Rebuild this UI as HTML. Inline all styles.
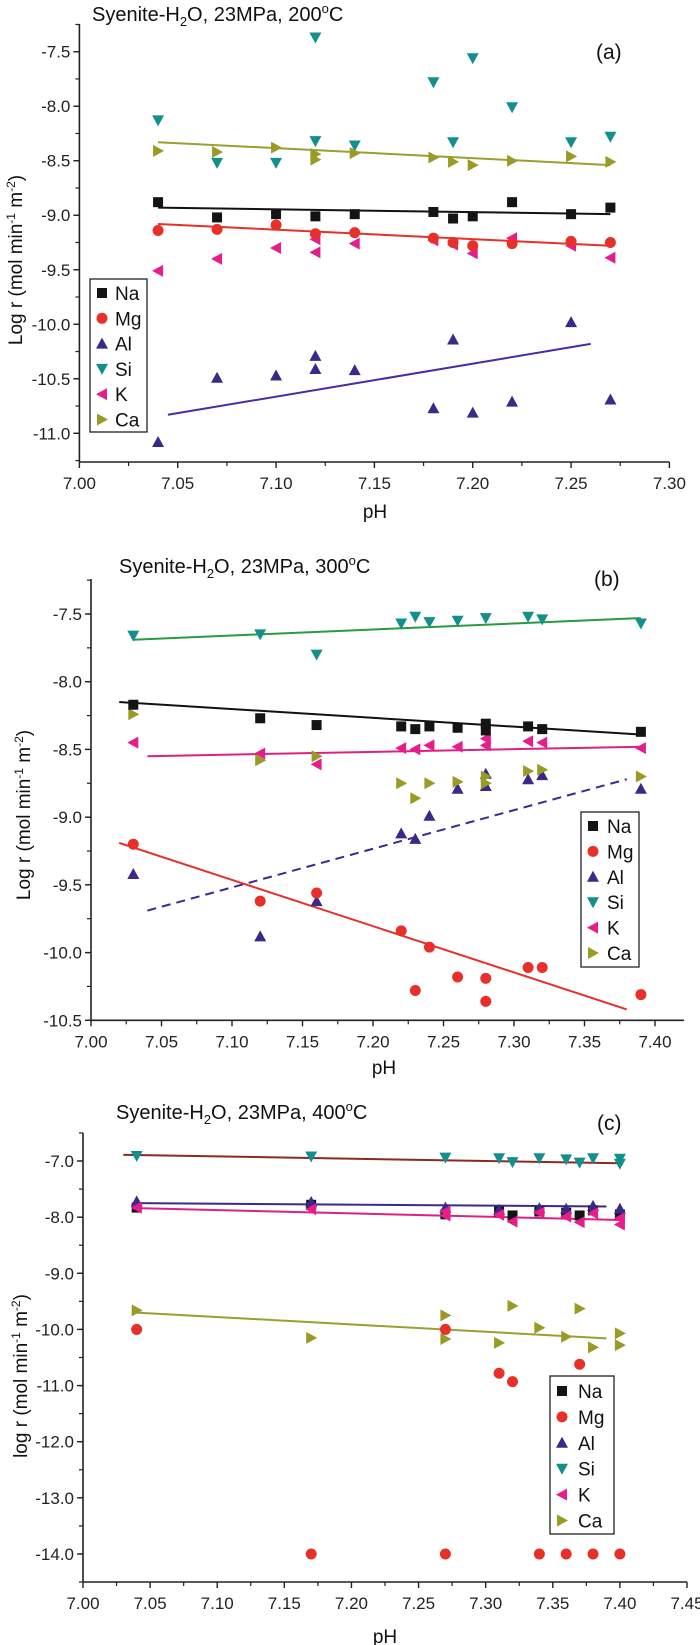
<!DOCTYPE html>
<html><head><meta charset="utf-8"><style>
html,body{margin:0;padding:0;background:#fff;}
svg{display:block;}
text{font-family:"Liberation Sans",Arial,sans-serif;}
</style></head><body>
<svg id="chart" width="700" height="1645" viewBox="0 0 700 1645" xmlns="http://www.w3.org/2000/svg"></svg>
<script>
// ---------- Panel (a) 200°C data ----------
const aNaX=[7.04,7.07,7.10,7.12,7.14,7.18,7.19,7.20,7.22,7.25,7.27];
const aNaY=[-8.88,-9.02,-8.99,-9.01,-8.99,-8.97,-9.03,-9.01,-8.88,-8.99,-8.93];
const aMgX=[7.04,7.07,7.10,7.12,7.14,7.18,7.19,7.20,7.22,7.25,7.27];
const aMgY=[-9.14,-9.13,-9.09,-9.17,-9.16,-9.21,-9.25,-9.28,-9.26,-9.24,-9.25];
const aAlX=[7.04,7.07,7.10,7.12,7.12,7.14,7.18,7.19,7.20,7.22,7.25,7.27];
const aAlY=[-11.08,-10.49,-10.47,-10.29,-10.41,-10.42,-10.77,-10.14,-10.81,-10.71,-9.98,-10.69];
const aSiX=[7.04,7.07,7.10,7.12,7.12,7.14,7.18,7.19,7.20,7.22,7.25,7.27];
const aSiY=[-8.13,-8.52,-8.52,-7.37,-8.32,-8.36,-7.78,-8.33,-7.56,-8.01,-8.33,-8.28];
const aKX=[7.04,7.07,7.10,7.12,7.12,7.14,7.18,7.19,7.20,7.22,7.25,7.27];
const aKY=[-9.51,-9.40,-9.30,-9.22,-9.34,-9.26,-9.23,-9.27,-9.35,-9.21,-9.28,-9.39];
const aCaX=[7.04,7.07,7.10,7.12,7.12,7.14,7.18,7.19,7.20,7.22,7.25,7.27];
const aCaY=[-8.41,-8.42,-8.38,-8.44,-8.49,-8.43,-8.47,-8.51,-8.54,-8.50,-8.46,-8.51];
const aFitNa=[7.04,-8.93,7.27,-8.99];
const aFitMg=[7.04,-9.08,7.27,-9.28];
const aFitAl=[7.045,-10.83,7.26,-10.18];
const aFitCa=[7.04,-8.33,7.27,-8.54];
const aXTicks=["7.00","7.05","7.10","7.15","7.20","7.25","7.30"];
const aYTicks=["-7.5","-8.0","-8.5","-9.0","-9.5","-10.0","-10.5","-11.0"];

// ---------- Panel (b) 300°C data ----------
const bX=[7.03,7.12,7.16,7.22,7.23,7.24,7.26,7.28,7.28,7.31,7.32,7.39];
const bNaY=[-8.17,-8.27,-8.32,-8.33,-8.35,-8.33,-8.34,-8.31,-8.36,-8.33,-8.35,-8.37];
const bMgY=[-9.20,-9.62,-9.56,-9.84,-10.28,-9.96,-10.18,-10.19,-10.36,-10.11,-10.11,-10.31];
const bAlY=[-9.42,-9.88,-9.62,-9.12,-9.16,-8.99,-8.79,-8.68,-8.77,-8.72,-8.69,-8.79];
const bSiX=[7.03,7.12,7.16,7.22,7.23,7.24,7.26,7.28,7.31,7.32,7.39];
const bSiY=[-7.66,-7.65,-7.80,-7.57,-7.52,-7.56,-7.55,-7.53,-7.52,-7.54,-7.57];
const bKY=[-8.45,-8.53,-8.61,-8.49,-8.50,-8.47,-8.48,-8.42,-8.47,-8.44,-8.45,-8.49];
const bCaY=[-8.24,-8.58,-8.55,-8.75,-8.86,-8.75,-8.74,-8.70,-8.75,-8.66,-8.65,-8.70];
const bFitSi=[7.03,-7.69,7.39,-7.53];
const bFitNa=[7.02,-8.15,7.39,-8.39];
const bFitK=[7.04,-8.55,7.39,-8.48];
const bFitMg=[7.02,-9.19,7.38,-10.42];
const bFitAl=[7.04,-9.69,7.38,-8.72];
const bXTicks=["7.00","7.05","7.10","7.15","7.20","7.25","7.30","7.35","7.40"];
const bYTicks=["-7.5","-8.0","-8.5","-9.0","-9.5","-10.0","-10.5"];

// ---------- Panel (c) 400°C data ----------
const cNaX=[7.04,7.17,7.27,7.31,7.32,7.34,7.36,7.37,7.38,7.40];
const cNaY=[-7.83,-7.78,-7.95,-7.90,-7.97,-7.90,-7.92,-7.97,-7.88,-7.95];
const cMgX=[7.04,7.17,7.27,7.27,7.31,7.32,7.34,7.36,7.37,7.38,7.40];
const cMgY=[-10.0,-14.0,-10.0,-14.0,-10.78,-10.93,-14.0,-14.0,-10.62,-14.0,-14.0];
const cAlX=[7.04,7.17,7.27,7.31,7.34,7.36,7.38,7.40];
const cAlY=[-7.72,-7.73,-7.83,-7.87,-7.84,-7.85,-7.80,-7.85];
const cSiX=[7.04,7.17,7.27,7.31,7.32,7.34,7.36,7.37,7.38,7.40,7.40];
const cSiY=[-6.91,-6.92,-6.94,-6.95,-7.02,-6.95,-6.97,-7.03,-6.95,-6.96,-7.05];
const cKX=[7.04,7.17,7.27,7.27,7.31,7.32,7.34,7.36,7.37,7.38,7.40,7.40];
const cKY=[-7.83,-7.86,-7.90,-7.97,-7.96,-8.08,-7.92,-7.99,-8.09,-7.93,-8.02,-8.13];
const cCaX=[7.04,7.17,7.27,7.27,7.31,7.32,7.34,7.36,7.37,7.38,7.40,7.40];
const cCaY=[-9.66,-10.15,-9.75,-10.17,-10.24,-9.58,-9.97,-10.13,-9.63,-10.32,-10.07,-10.28];
const cFitSi=[7.03,-6.89,7.40,-7.04];
const cFitAl=[7.04,-7.75,7.39,-7.81];
const cFitK=[7.04,-7.84,7.40,-8.05];
const cFitCa=[7.04,-9.70,7.39,-10.16];
const cXTicks=["7.00","7.05","7.10","7.15","7.20","7.25","7.30","7.35","7.40","7.45"];
const cYTicks=["-7.0","-8.0","-9.0","-10.0","-11.0","-12.0","-13.0","-14.0"];

const NS="http://www.w3.org/2000/svg";
const svg=document.getElementById('chart');
const COL={Na:"#141414",Mg:"#e8302a",Al:"#3b2888",Si:"#14908c",K:"#e61e8c",Ca:"#9a9a26"};
function mk(tag,attrs,parent){const e=document.createElementNS(NS,tag);for(const k in attrs)e.setAttribute(k,attrs[k]);(parent||svg).appendChild(e);return e;}
function marker(g,type,cx,cy,s){
  const c=COL[type];let e;const r=s/2;
  if(type==="Na"){e=mk('rect',{x:cx-r,y:cy-r,width:s,height:s,fill:c},g);}
  else if(type==="Mg"){e=mk('circle',{cx:cx,cy:cy,r:r+0.5,fill:c},g);}
  else{
    let p;
    if(type==="Al")p=[[cx,cy-r-1],[cx+r+1,cy+r],[cx-r-1,cy+r]];
    if(type==="Si")p=[[cx-r-1,cy-r],[cx+r+1,cy-r],[cx,cy+r+1]];
    if(type==="K")p=[[cx+r,cy-r-1],[cx+r,cy+r+1],[cx-r-1,cy]];
    if(type==="Ca")p=[[cx-r,cy-r-1],[cx-r,cy+r+1],[cx+r+1,cy]];
    e=mk('polygon',{points:p.map(q=>q.join(',')).join(' '),fill:c},g);
  }
  return e;
}
function panel(P){
  const g=mk('g',{});
  
  
  const sx=v=>P.x0+(v-P.xmin)/(P.xmax-P.xmin)*(P.x1-P.x0);
  const sy=v=>P.yA+(v-P.vA)/(P.vB-P.vA)*(P.yB-P.yA);
  const ya=mk('line',{x1:P.x0,y1:P.yTop,x2:P.x0,y2:P.yBot,stroke:"#222","stroke-width":1.6},g);
  
  const xa=mk('line',{x1:P.x0,y1:P.yBot,x2:P.xEnd,y2:P.yBot,stroke:"#222","stroke-width":1.6},g);
  
  P.xt.forEach((t,i)=>{
    const v=parseFloat(t),x=sx(v);
    mk('line',{x1:x,y1:P.yBot,x2:x,y2:P.yBot+6,stroke:"#222","stroke-width":1.4},g);
    const tx=mk('text',{x:x,y:P.yBot+27,"text-anchor":"middle","font-size":17,fill:"#222"},g);
    tx.textContent=t;
    
    const vm=v+P.xstep/2, xm=sx(vm);
    if(xm<=P.xEnd+0.5) mk('line',{x1:xm,y1:P.yBot,x2:xm,y2:P.yBot+4,stroke:"#222","stroke-width":1.2},g);
  });
  P.yt.forEach(t=>{
    const v=parseFloat(t),y=sy(v);
    mk('line',{x1:P.x0-6,y1:y,x2:P.x0,y2:y,stroke:"#222","stroke-width":1.4},g);
    const tx=mk('text',{x:P.x0-9,y:y+6,"text-anchor":"end","font-size":17,fill:"#222"},g);
    tx.textContent=t;
    
  });
  for(let v=P.yminorStart;v>=P.yminorEnd-1e-9;v-=P.ystep/2){
    const y=sy(v); if(y<P.yTop-0.5||y>P.yBot+0.5)continue;
    mk('line',{x1:P.x0-4,y1:y,x2:P.x0,y2:y,stroke:"#222","stroke-width":1.2},g);
  }
  const tt=mk('text',{x:P.tx,y:P.ty,"font-size":20,fill:"#111"},g);
  tt.innerHTML='Syenite-H<tspan dy="5" font-size="13">2</tspan><tspan dy="-5">O, 23MPa, '+P.temp+'</tspan><tspan dy="-8" font-size="13">o</tspan><tspan dy="8">C</tspan>';
  
  const lb=mk('text',{x:P.lx,y:P.ly,"font-size":21,fill:"#111","font-family":"Liberation Serif, serif"},g);
  lb.textContent=P.label;
  
  const yl=mk('text',{x:0,y:0,"font-size":19,fill:"#111","text-anchor":"middle",transform:`translate(${P.ytx},${P.yty}) rotate(-90)`},g);
  yl.innerHTML=P.ylab+' r (mol min<tspan dy="-7" font-size="12">-1</tspan><tspan dy="7"> m</tspan><tspan dy="-7" font-size="12">-2</tspan><tspan dy="7">)</tspan>';
  
  const xl=mk('text',{x:P.xlx,y:P.xly,"font-size":19,fill:"#111","text-anchor":"middle"},g);
  xl.textContent='pH';
  
  P.fits.forEach(f=>{
    const d=f.d;
    const l=mk('line',{x1:sx(d[0]),y1:sy(d[1]),x2:sx(d[2]),y2:sy(d[3]),stroke:f.c,"stroke-width":2},g);
    if(f.dash)l.setAttribute('stroke-dasharray','9,6');
    
  });
  P.series.forEach(s=>{
    const sg=mk('g',{},g);
    
    s.x.forEach((xv,i)=>{
      const m=marker(sg,s.n,sx(xv),sy(s.y[i]),10);
      
      
    });
  });
  const L=P.leg;
  const lg=mk('g',{},g);
  
  mk('rect',{x:L.x,y:L.y,width:L.w,height:L.h,fill:"#fff",stroke:"#222","stroke-width":1.3},lg);
  ["Na","Mg","Al","Si","K","Ca"].forEach((n,i)=>{
    const cy=L.y0+i*L.dy;
    const m=marker(lg,n,L.x+12,cy,10);
    
    const t=mk('text',{x:L.x+L.tx,y:cy+7,"font-size":19,fill:"#111"},lg);
    t.textContent=n;
    
  });
}
panel({name:'panel-a-200C',xmin:7.0,xmax:7.3,x0:79.4,x1:669.4,xEnd:669.4,xstep:0.05,
  vA:-7.5,yA:51.7,vB:-11.0,yB:433.3,yTop:24,yBot:462,ystep:0.5,yminorStart:-7.25,yminorEnd:-11.25,
  xt:aXTicks,yt:aYTicks,temp:'200',tx:92,ty:21,label:'(a)',lx:596,ly:59,ylab:'Log',ytx:22,yty:260,xlx:375,xly:518,
  fits:[{n:'Na',d:aFitNa,c:'#111'},{n:'Mg',d:aFitMg,c:'#e8302a'},{n:'Al',d:aFitAl,c:'#4a2aa8'},{n:'Ca',d:aFitCa,c:'#9aa030'}],
  series:[{n:'Al',x:aAlX,y:aAlY},{n:'Si',x:aSiX,y:aSiY},{n:'K',x:aKX,y:aKY},{n:'Ca',x:aCaX,y:aCaY},{n:'Mg',x:aMgX,y:aMgY},{n:'Na',x:aNaX,y:aNaY}],
  leg:{x:90,y:279,w:57,h:153,y0:293,dy:25.3,tx:25}});
panel({name:'panel-b-300C',xmin:7.0,xmax:7.4,x0:91,x1:655,xEnd:684,xstep:0.05,
  vA:-7.5,yA:614,vB:-10.5,yB:1020.3,yTop:579,yBot:1020.3,ystep:0.5,yminorStart:-7.25,yminorEnd:-10.5,
  xt:bXTicks,yt:bYTicks,temp:'300',tx:119,ty:573,label:'(b)',lx:594,ly:586,ylab:'Log',ytx:30,yty:815,xlx:384,xly:1074,
  fits:[{n:'Si',d:bFitSi,c:'#2a9a40'},{n:'Na',d:bFitNa,c:'#111'},{n:'K',d:bFitK,c:'#e02080'},{n:'Mg',d:bFitMg,c:'#e8302a'},{n:'Al',d:bFitAl,c:'#3a2a90',dash:true}],
  series:[{n:'Al',x:bX,y:bAlY},{n:'Si',x:bSiX,y:bSiY},{n:'K',x:bX,y:bKY},{n:'Ca',x:bX,y:bCaY},{n:'Mg',x:bX,y:bMgY},{n:'Na',x:bX,y:bNaY}],
  leg:{x:581,y:812,w:58,h:155,y0:826,dy:25.4,tx:26}});
panel({name:'panel-c-400C',xmin:7.0,xmax:7.45,x0:83,x1:687,xEnd:687,xstep:0.05,
  vA:-7.0,yA:1161,vB:-14.0,yB:1554,yTop:1133,yBot:1582,ystep:1,yminorStart:-6.5,yminorEnd:-14.5,
  xt:cXTicks,yt:cYTicks,temp:'400',tx:116,ty:1119,label:'(c)',lx:597,ly:1130,ylab:'log',ytx:27,yty:1376,xlx:385,xly:1643,
  fits:[{n:'Si',d:cFitSi,c:'#8a2a20'},{n:'Al',d:cFitAl,c:'#3a2a90'},{n:'K',d:cFitK,c:'#e02080'},{n:'Ca',d:cFitCa,c:'#9aa030'}],
  series:[{n:'Na',x:cNaX,y:cNaY},{n:'Al',x:cAlX,y:cAlY},{n:'K',x:cKX,y:cKY},{n:'Si',x:cSiX,y:cSiY},{n:'Ca',x:cCaX,y:cCaY},{n:'Mg',x:cMgX,y:cMgY}],
  leg:{x:550,y:1376,w:64,h:158,y0:1391,dy:25.9,tx:28}});
</script>
</body></html>
